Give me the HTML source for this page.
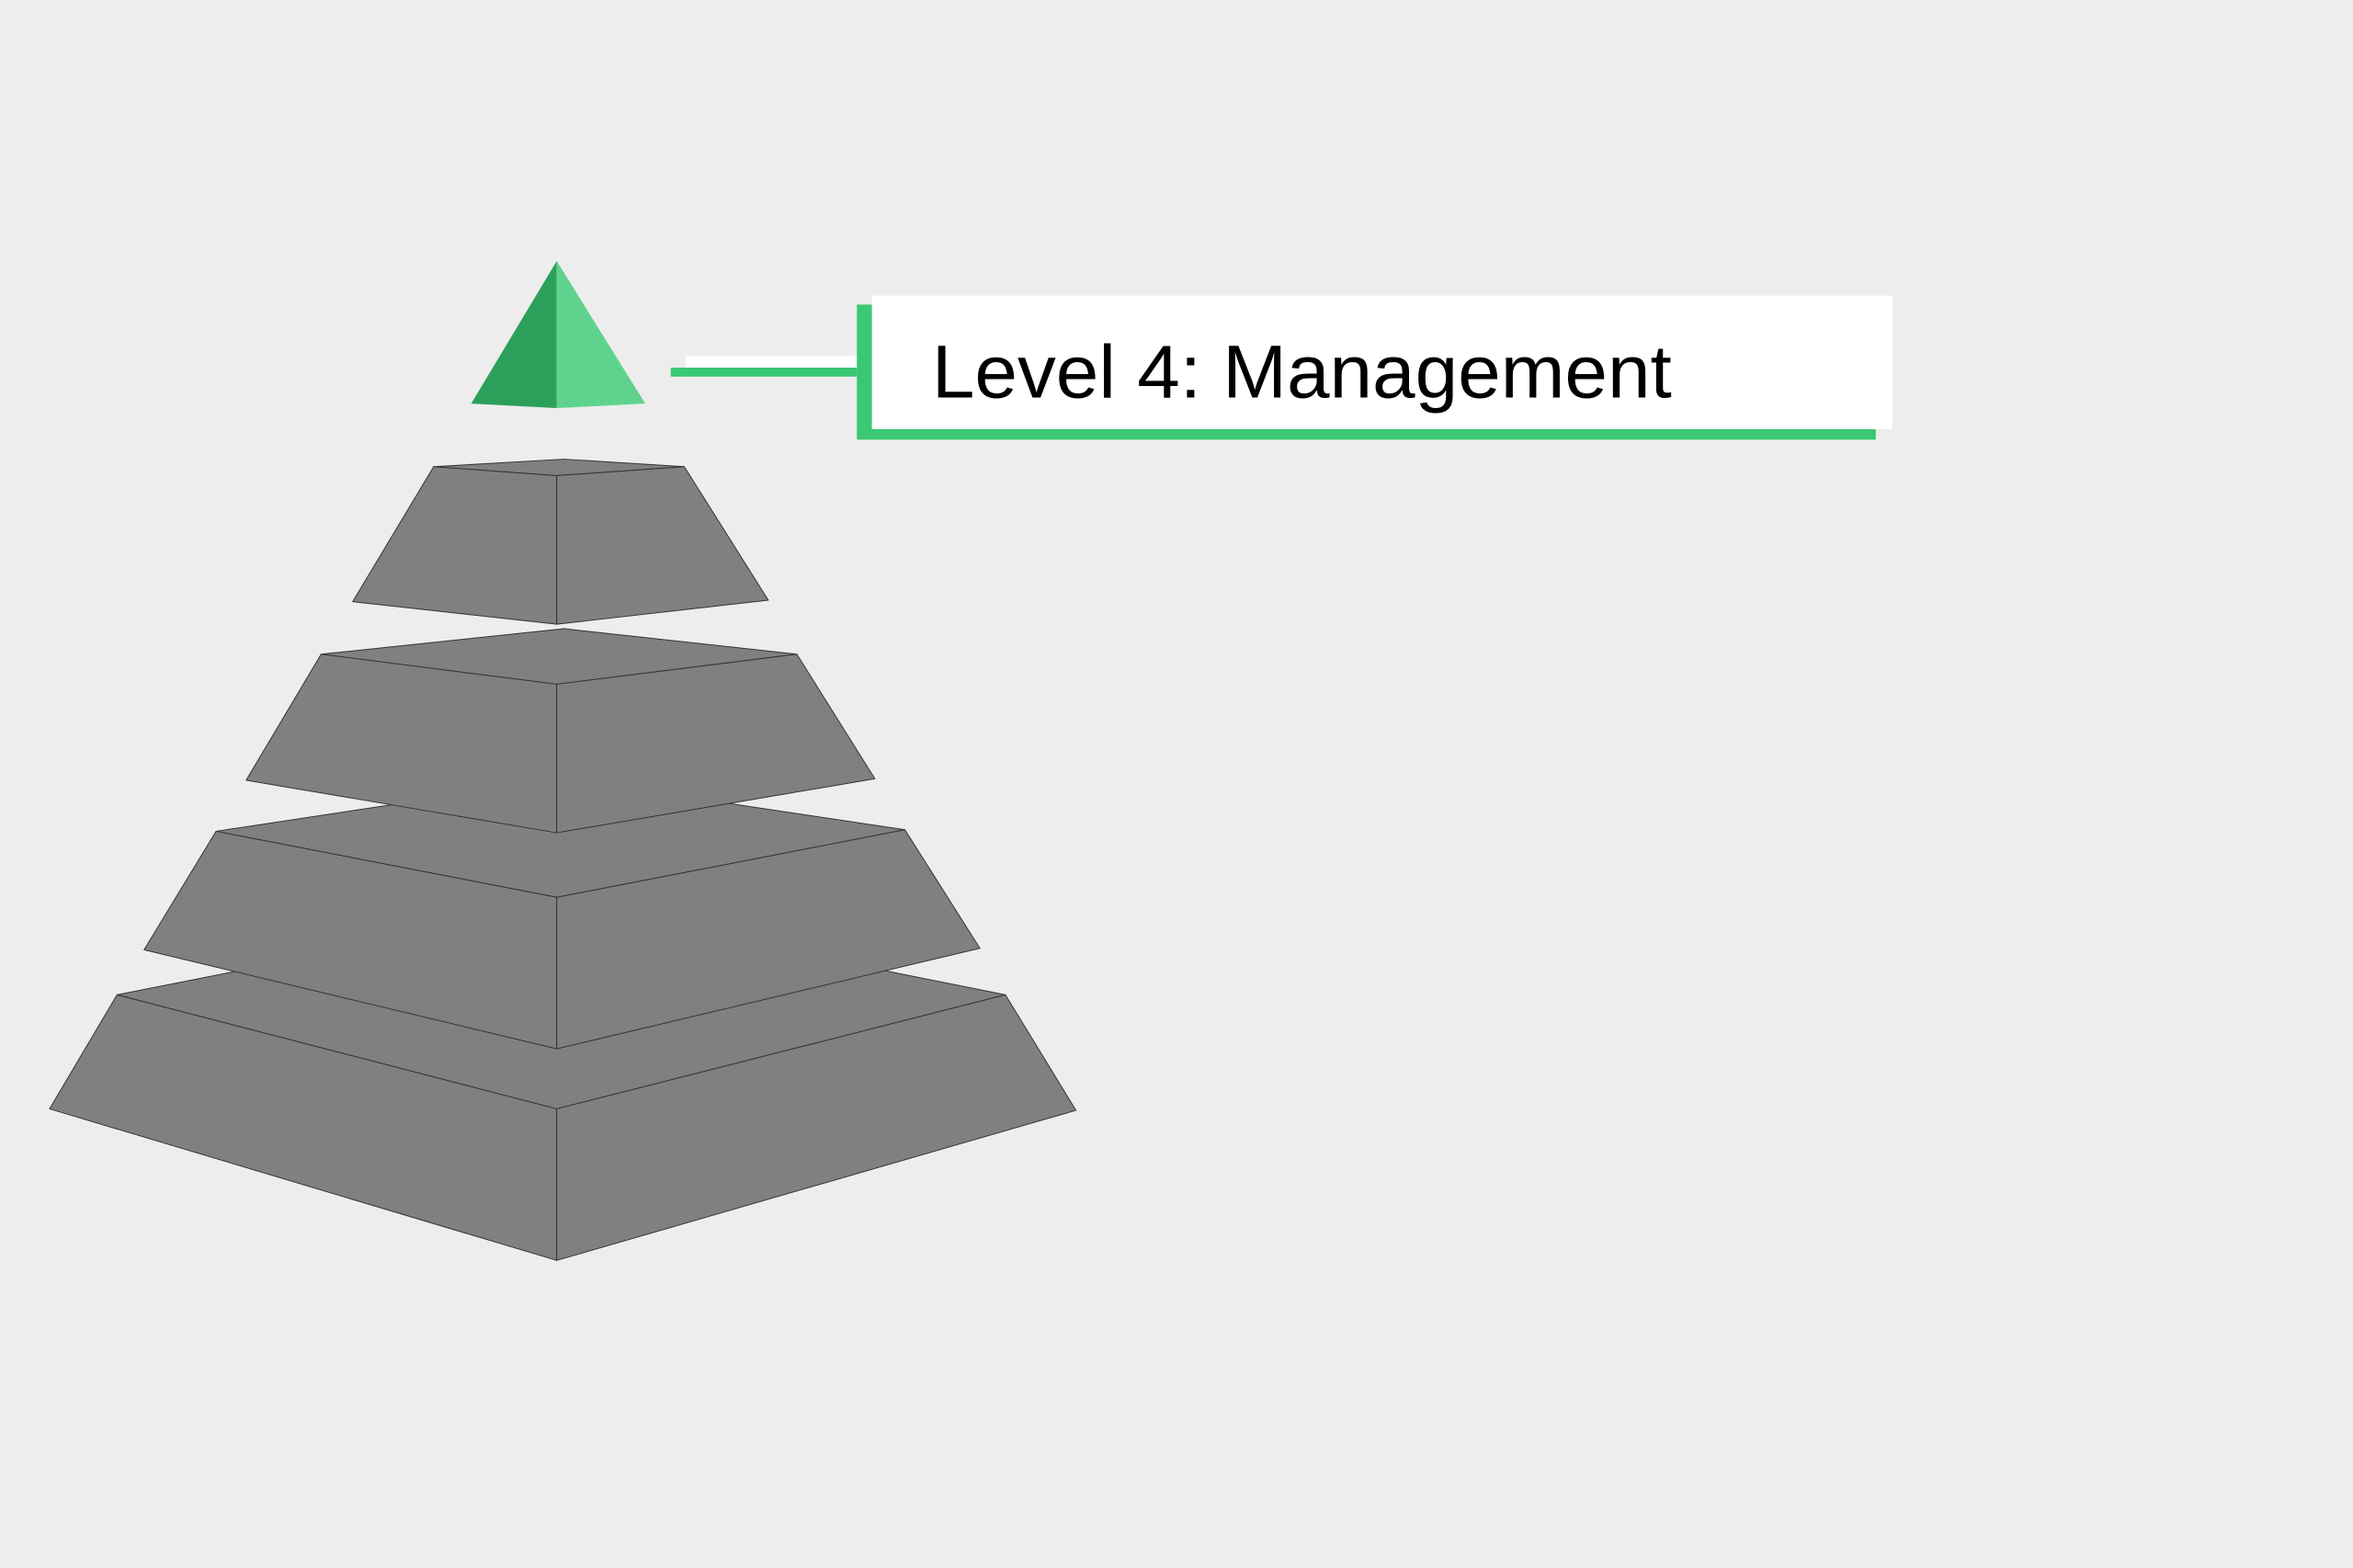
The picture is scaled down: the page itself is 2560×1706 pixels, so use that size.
<!DOCTYPE html>
<html><head><meta charset="utf-8"><style>
html,body{margin:0;padding:0;background:#ededed;width:2560px;height:1706px;overflow:hidden}
svg{display:block}
</style></head><body>
<svg width="2560" height="1706" viewBox="0 0 1568 1045" preserveAspectRatio="none" xmlns="http://www.w3.org/2000/svg">
<rect width="1568" height="1045" fill="#ededed"/>
<g fill="#808080" stroke="#333" stroke-width="0.6" stroke-linejoin="round">
<polygon points="78,663 376,604 670,663 371,739"/>
<polygon points="78,663 371,739 371,840 33,739"/>
<polygon points="670,663 371,739 371,840 717,740"/>
<polygon points="144,554 376,519 603,553 371,598"/>
<polygon points="144,554 371,598 371,699 96,633"/>
<polygon points="603,553 371,598 371,699 653,632"/>
<polygon points="214,436 376,419 531,436 371,456"/>
<polygon points="214,436 371,456 371,555 164,520"/>
<polygon points="531,436 371,456 371,555 583,519"/>
<polygon points="289,311 376,306 456,311 371,317"/>
<polygon points="289,311 371,317 371,416 235,401"/>
<polygon points="456,311 371,317 371,416 512,400"/>
</g>
<polygon points="371,174 314,269 371,272" fill="#2ba05a"/>
<polygon points="371,174 430,269 371,272" fill="#5fd38d"/>
<rect x="447" y="245" width="124" height="6" fill="#3ac874"/>
<rect x="457" y="237" width="124" height="8" fill="#ffffff"/>
<rect x="571" y="203" width="679" height="90" fill="#3ac874"/>
<rect x="581" y="197" width="680" height="89" fill="#ffffff"/>
<text x="621" y="265" font-family="Liberation Sans, sans-serif" font-size="50" fill="#000" textLength="493" lengthAdjust="spacingAndGlyphs">Level 4: Management</text>
</svg>
</body></html>
